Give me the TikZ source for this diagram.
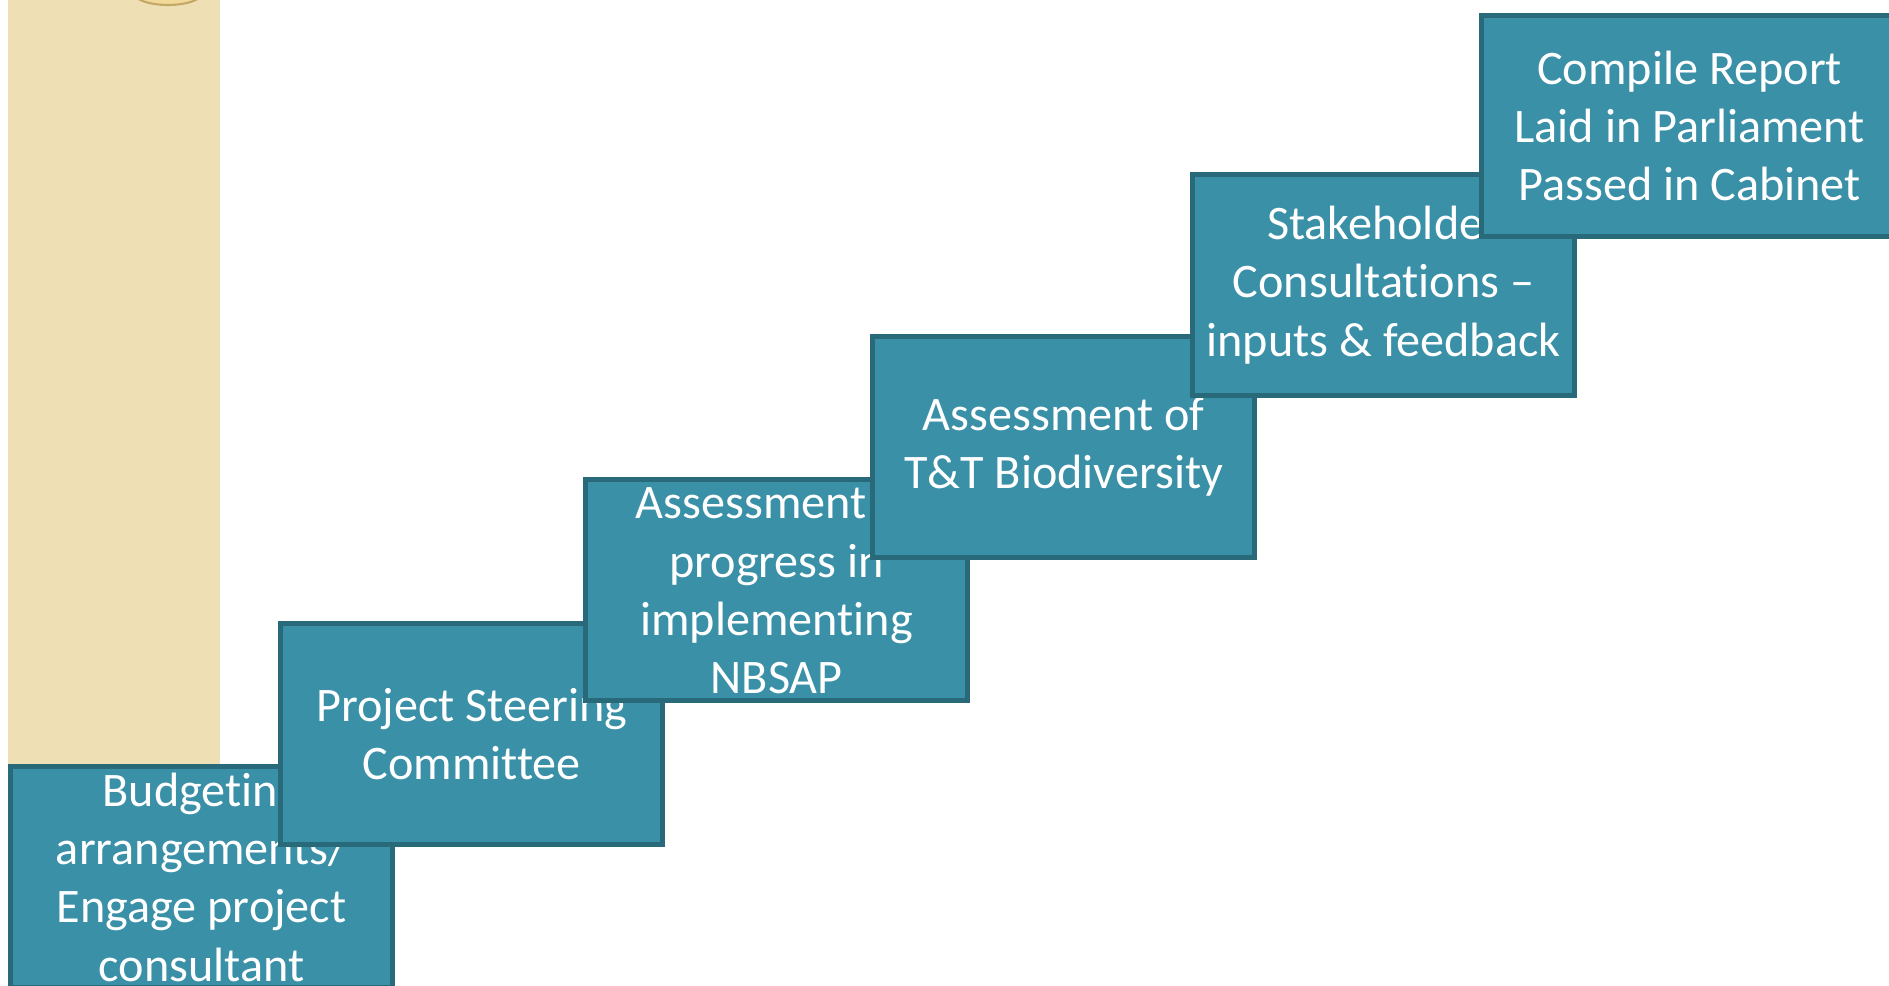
\documentclass[tikz,border=0pt]{standalone}
\usepackage{fontspec}
\setmainfont{Carlito}[Ligatures=NoCommon]

\definecolor{stepfill}{RGB}{58,144,167}
\definecolor{stepline}{RGB}{40,106,122}
\definecolor{paper}{RGB}{238,223,181}
\definecolor{knob}{RGB}{241,217,152}
\definecolor{knobline}{RGB}{196,168,104}

\tikzset{stepbox/.style={draw=stepline, fill=stepfill, line width=1.4pt,
    text=white, align=center, anchor=north west, inner sep=0pt, outer sep=0pt,
    minimum width=3.82cm, minimum height=2.21cm,
    font=\fontsize{13.7}{16.6}\selectfont}}

\begin{document}
\begin{tikzpicture}[x=0.01cm, y=-0.01cm]
           \useasboundingbox (0,0) rectangle (1889,985);
           \clip (0,0) rectangle (1889,985);

           % Stripe
           \fill[paper] (8,0) rectangle (220,765);
           \filldraw[fill=knob, draw=knobline, line width=0.6pt] (168,-8) ellipse (0.35cm and 0.13cm);

           % Steps
           \node[stepbox] (budget) at (10.5,766.5) {Budgeting\\arrangements/\\Engage project\\consultant};
           \node[stepbox] (steering) at (280.5,623.5) {Project Steering\\Committee};
           \node[stepbox] (progress) at (585.5,479.5) {Assessment of\\progress in\\implementing\\NBSAP};
           \node[stepbox] (biodiv) at (872.5,336.5) {Assessment of\\T\&T Biodiversity};
           \node[stepbox] (stakeholder) at (1192.5,174.5) {Stakeholder\\Consultations --\\inputs \& feedback};
           \node[stepbox, minimum width=4.16cm] (report) at (1481.5,15.5) {Compile Report\\Laid in Parliament\\Passed in Cabinet};

         \end{tikzpicture}
\end{document}
